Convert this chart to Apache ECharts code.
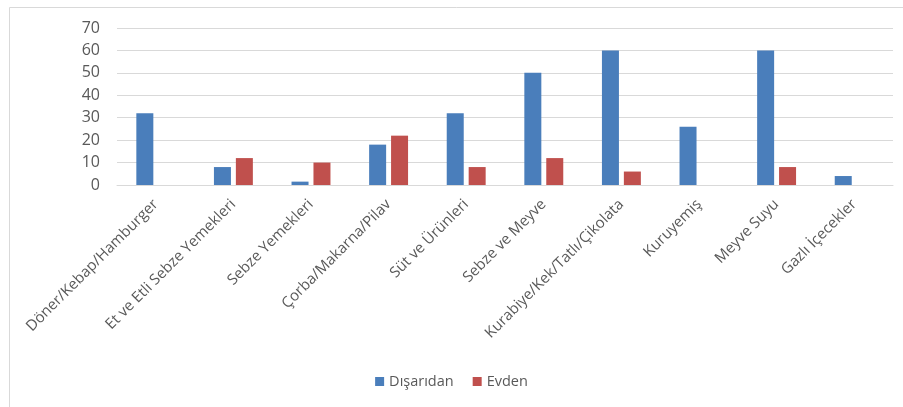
<!DOCTYPE html>
<html>
<head>
<meta charset="utf-8">
<script src="https://cdn.jsdelivr.net/npm/echarts@6/dist/echarts.min.js"></script>
<style>
html,body{margin:0;padding:0;background:#fff;}
#c{width:903px;height:407px;}
</style>
</head>
<body>
<div id="c"></div>
<script>
const categories = ["Döner/Kebap/Hamburger","Et ve Etli Sebze Yemekleri","Sebze Yemekleri","Çorba/Makarna/Pilav","Süt ve Ürünleri","Sebze ve Meyve","Kurabiye/Kek/Tatlı/Çikolata","Kuruyemiş","Meyve Suyu","Gazlı İçecekler"];
const disaridan = [32, 8, 1.5, 18, 32, 50, 60, 26, 60, 4];
const evden = [0, 12, 10, 22, 8, 12, 6, 0, 8, 0];
const seriesNames = ["Dışarıdan", "Evden"];
const yTicks = {min: 0, max: 70, interval: 10};

const font = "Open Sans";
const txt = "#595959";
const chart = echarts.init(document.getElementById('c'), null, {renderer: 'canvas'});
chart.setOption({
  animation: false,
  backgroundColor: '#fff',
  graphic: [{
    type: 'rect', shape: {x: 9.5, y: 7.5, width: 1000, height: 1000},
    style: {fill: 'none', stroke: '#d9d9d9', lineWidth: 1}, silent: true, z: -1
  }],
  grid: {left: 117, right: 10, top: 28, bottom: 222, containLabel: false},
  legend: {
    data: seriesNames, bottom: 13, left: 'center',
    itemWidth: 9, itemHeight: 9, itemGap: 19,
    icon: 'rect',
    textStyle: {color: txt, fontFamily: font, fontSize: 14.5}
  },
  xAxis: {
    type: 'category', data: categories,
    axisLine: {lineStyle: {color: '#d9d9d9'}},
    axisTick: {show: false},
    axisLabel: {rotate: 45, interval: 0, color: txt, fontFamily: font, fontSize: 15, margin: 17}
  },
  yAxis: {
    type: 'value', min: yTicks.min, max: yTicks.max, interval: yTicks.interval,
    axisLine: {show: false}, axisTick: {show: false},
    splitLine: {lineStyle: {color: '#d9d9d9', width: 1}},
    axisLabel: {color: txt, fontFamily: font, fontSize: 16, margin: 17}
  },
  series: [
    {name: seriesNames[0], type: 'bar', data: disaridan, barWidth: 17, barGap: '29%',
     itemStyle: {color: '#4a7ebb'}},
    {name: seriesNames[1], type: 'bar', data: evden, barWidth: 17,
     itemStyle: {color: '#c0504d'}}
  ]
});
</script>
</body>
</html>
